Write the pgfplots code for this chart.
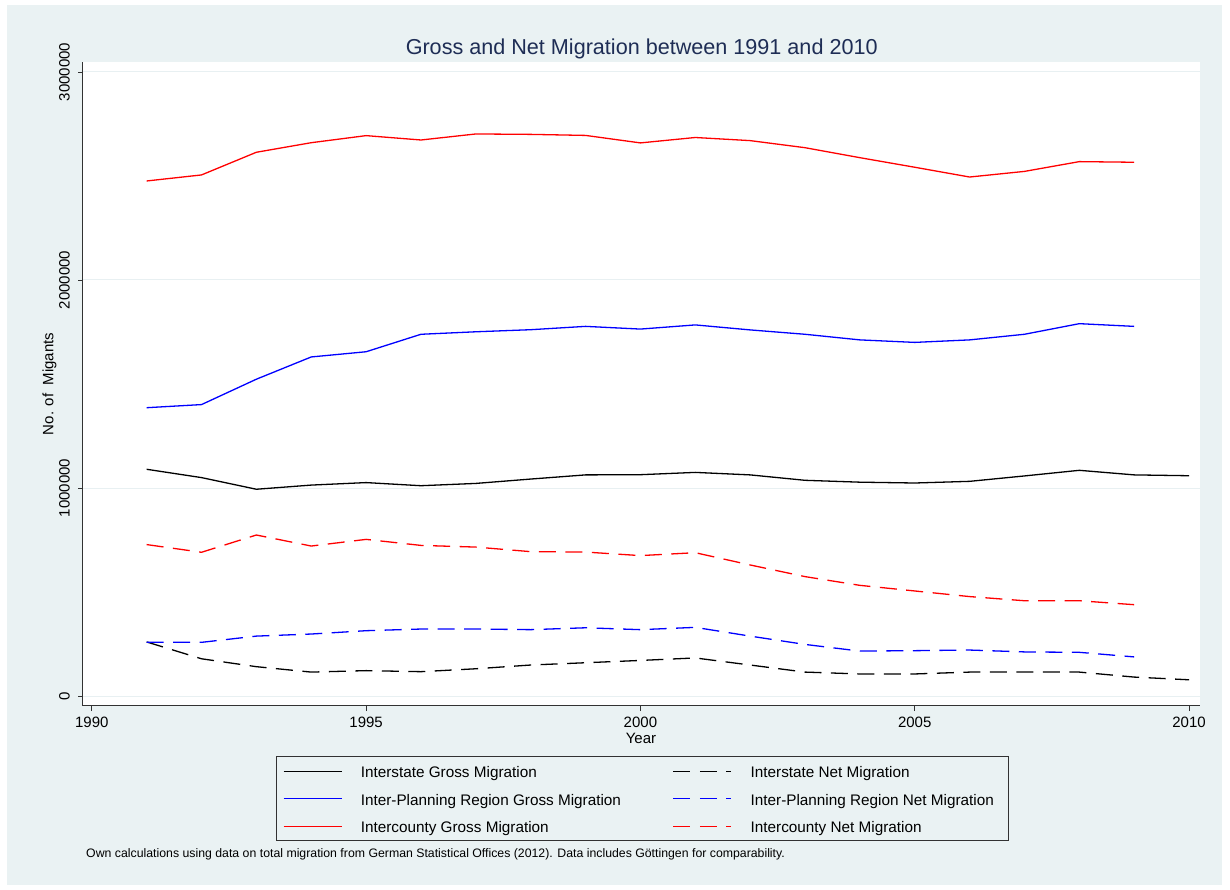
\documentclass[border=0pt]{standalone}
\usepackage{fontspec}
\setmainfont{Liberation Sans}
\usepackage{pgfplots}
\pgfplotsset{compat=1.18}
\definecolor{bgc}{RGB}{234,242,243}
\definecolor{titlec}{RGB}{30,45,85}
\definecolor{gridc}{RGB}{232,240,242}
\definecolor{axc}{RGB}{50,50,50}
\newcommand\fs[1]{\fontsize{#1}{#1}\selectfont}
\begin{document}
\begin{tikzpicture}[x=1pt,y=1pt]
\fill[white] (-83,-184) rectangle (1147,706);
\fill[bgc] (-76,-179) rectangle (1139,701);
\begin{axis}[
  at={(0,0)}, anchor=south west,
  scale only axis, width=1117pt, height=644pt,
  xmin=1989.84, xmax=2010.2, ymin=-48000, ymax=3048000,
  axis background/.style={fill=white},
  axis x line*=bottom, axis y line*=left,
  axis line style={-, draw=axc, line width=1pt},
  scaled x ticks=false, scaled y ticks=false,
  xtick={1990,1995,2000,2005,2010},
  xticklabels={1990,1995,2000,2005,2010},
  ytick={0,1000000,2000000,3000000},
  yticklabels={0,1000000,2000000,3000000},
  tick align=outside, major tick length=5pt,
  tick style={axc, line width=0.8pt},
  ymajorgrids, grid style={gridc, line width=1pt},
  xticklabel style={yshift=-6pt, anchor=north, inner sep=0pt, font=\fs{15}},
  yticklabel style={xshift=-8pt, rotate=90, anchor=south, inner sep=0pt, font=\fs{15}},
  legend columns=2,
  legend cell align=left,
  legend image code/.code={\draw[#1] (0pt,2.95pt) -- (58pt,2.95pt);},
  legend style={draw=none, fill=none, inner sep=0pt,
    at={(0.17878,-0.09425)}, anchor=north west,
    column sep=18.6pt, row sep=13pt,
    /tikz/column 2/.style={column sep=51.7pt},
    nodes={inner sep=0pt, text height=11pt, text depth=3.5pt},
    font=\fs{15.3}},
  every axis plot/.append style={line width=1.3pt},
  gnet/.style={dash pattern=on 17pt off 9.5pt},
]
% Interstate Gross
\addplot[black] coordinates {
(1991,1090000)(1992,1050000)(1993,994000)(1994,1014000)(1995,1026000)(1996,1011000)(1997,1022000)(1998,1043000)(1999,1063000)(2000,1064000)(2001,1075000)(2002,1063000)(2003,1037000)(2004,1028000)(2005,1024000)(2006,1032000)(2007,1058000)(2008,1085000)(2009,1063000)(2010,1059000)};
\addlegendentry{Interstate Gross Migration}
% Interstate Net
\addplot[black, gnet] coordinates {
(1991,260000)(1992,179000)(1993,141000)(1994,115000)(1995,122000)(1996,117000)(1997,131000)(1998,149000)(1999,160000)(2000,171000)(2001,183000)(2002,149000)(2003,115000)(2004,106000)(2005,106000)(2006,115000)(2007,115000)(2008,115000)(2009,91000)(2010,78000)};
\addlegendentry{Interstate Net Migration}
% Inter-Planning Region Gross
\addplot[blue] coordinates {
(1991,1386000)(1992,1401000)(1993,1523000)(1994,1630000)(1995,1655000)(1996,1739000)(1997,1751000)(1998,1761000)(1999,1777000)(2000,1764000)(2001,1784000)(2002,1760000)(2003,1739000)(2004,1712000)(2005,1700000)(2006,1712000)(2007,1739000)(2008,1790000)(2009,1777000)};
\addlegendentry{Inter-Planning Region Gross Migration}
% Inter-Planning Region Net
\addplot[blue, gnet] coordinates {
(1991,258000)(1992,258000)(1993,288000)(1994,298000)(1995,314000)(1996,322000)(1997,322000)(1998,319000)(1999,328000)(2000,319000)(2001,330000)(2002,288000)(2003,248000)(2004,216000)(2005,218000)(2006,221000)(2007,212000)(2008,210000)(2009,188000)};
\addlegendentry{Inter-Planning Region Net Migration}
% Intercounty Gross
\addplot[red] coordinates {
(1991,2476000)(1992,2505000)(1993,2614000)(1994,2660000)(1995,2694000)(1996,2673000)(1997,2702000)(1998,2700000)(1999,2695000)(2000,2659000)(2001,2685000)(2002,2670000)(2003,2636000)(2004,2588000)(2005,2542000)(2006,2495000)(2007,2522000)(2008,2569000)(2009,2566000)};
\addlegendentry{Intercounty Gross Migration}
% Intercounty Net
\addplot[red, gnet] coordinates {
(1991,728000)(1992,691000)(1993,774000)(1994,721000)(1995,753000)(1996,724000)(1997,716000)(1998,694000)(1999,692000)(2000,675000)(2001,689000)(2002,630000)(2003,574000)(2004,532000)(2005,505000)(2006,478000)(2007,458000)(2008,458000)(2009,439000)};
\addlegendentry{Intercounty Net Migration}
\end{axis}
\draw[axc, line width=1pt] (193,-51) rectangle (925,-135);
\node[anchor=base, text=titlec, font=\fs{21.6}, inner sep=0pt] at (558.7,651.7) {Gross and Net Migration between 1991 and 2010};
\node[rotate=90, anchor=base, font=\fs{15}, inner sep=0pt] at (-29.7,322) {No. of\ \ Migants};
\node[anchor=base, font=\fs{15}, inner sep=0pt] at (558,-37.5) {Year};
\node[anchor=base west, font=\fs{12.3}, inner sep=0pt] at (3,-151.7) {Own calculations using data on total migration from German Statistical Offices (2012). Data includes Göttingen for comparability.};
\end{tikzpicture}
\end{document}
